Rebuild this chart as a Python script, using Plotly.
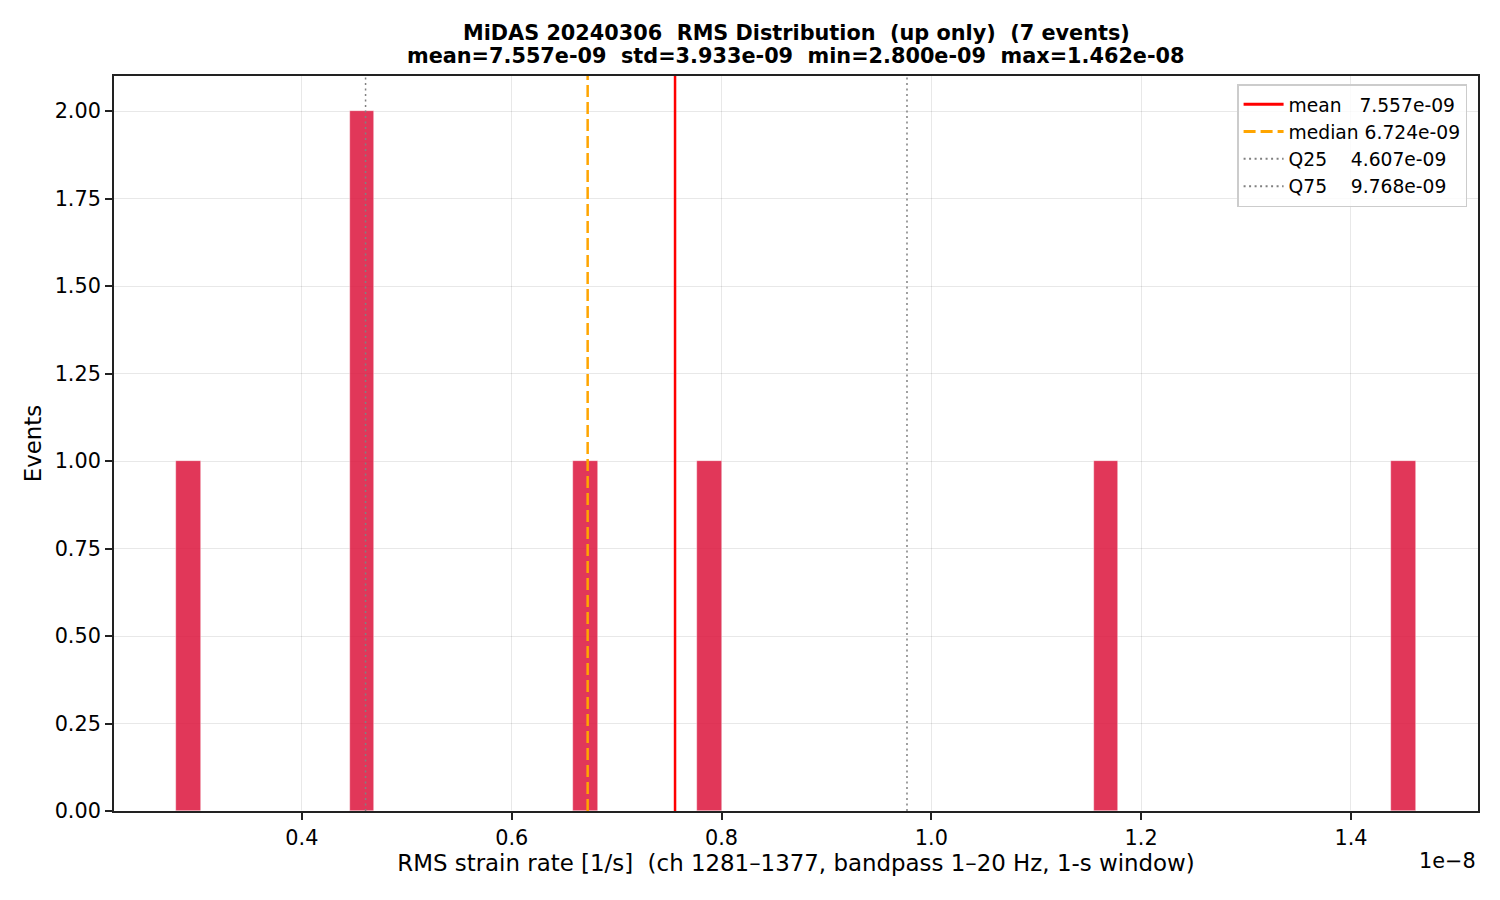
import numpy as np
import plotly.graph_objects as go

# RMS values of the 7 "up only" events [1/s]
rms_values = [2.800e-9, 4.580e-9, 4.634e-9, 6.724e-9, 7.800e-9, 11.736e-9, 14.620e-9]

# summary statistics shown as vertical lines
stat_names = ['mean', 'median', 'Q25', 'Q75']
stat_values = [7.557e-9, 6.724e-9, 4.607e-9, 9.768e-9]
stat_colors = ['red', 'orange', 'gray', 'gray']
stat_dash = ['solid', '12px,5px', '2px,3.5px', '2px,3.5px']
stat_width = [2.5, 2.5, 1.5, 1.5]
stat_label_pad = [3, 1, 4, 4]

title_lines = ['MiDAS 20240306  RMS Distribution  (up only)  (7 events)',
               'mean=7.557e-09  std=3.933e-09  min=2.800e-09  max=1.462e-08']

scale = 1e-8
n_bins = 50

x = np.array(rms_values) / scale
counts, edges = np.histogram(x, bins=n_bins)
centers = (edges[:-1] + edges[1:]) / 2
width = edges[1] - edges[0]

fig = go.Figure()

# histogram bars
fig.add_trace(go.Bar(
    x=centers, y=counts, width=width,
    marker=dict(color='rgba(220,20,60,0.85)', line=dict(color='rgba(255,255,255,0.7)', width=0.6)),
    showlegend=False, hoverinfo='x+y'))

# vertical stat lines + legend entries
for name, val, col, dash, lw, pad in zip(stat_names, stat_values, stat_colors, stat_dash,
                                         stat_width, stat_label_pad):
    fig.add_shape(type='line', x0=val / scale, x1=val / scale, xref='x',
                  y0=0, y1=1, yref='y domain',
                  line=dict(color=col, width=lw, dash=dash))
    label = name + '\u00a0' * pad + f'{val:.3e}'
    fig.add_trace(go.Scatter(x=[None], y=[None], mode='lines', name=label,
                             line=dict(color=col, width=lw + 0.5, dash=dash)))

lo = x.min() - 0.05 * (x.max() - x.min())
hi = x.max() + 0.05 * (x.max() - x.min())

# page body adds ~8px offset, so shrink the figure by that much
fig.update_layout(
    width=1492, height=892,
    font=dict(family='DejaVu Sans', size=20.8, color='black'),
    paper_bgcolor='white', plot_bgcolor='white',
    margin=dict(l=106, r=22, t=68, b=89),
    legend=dict(x=0.992, y=0.989, xanchor='right', yanchor='top',
                bgcolor='rgba(255,255,255,0.8)', bordercolor='#cccccc', borderwidth=1.5,
                font=dict(size=18.7), tracegroupgap=0, itemwidth=40),
    bargap=0,
)

# two-line bold title, placed like matplotlib's suptitle over the axes
for text, ypos in zip(title_lines, [1 + 43 / 735, 1 + 20 / 735]):
    fig.add_annotation(text=f'<b>{text}</b>', xref='paper', yref='paper', x=0.5, y=ypos,
                       xanchor='center', yanchor='middle', showarrow=False,
                       font=dict(size=20.8, color='black'))

fig.update_xaxes(
    range=[lo, hi], dtick=0.2, tickformat='.1f',
    showgrid=True, gridcolor='rgba(0,0,0,0.09)', gridwidth=1.2,
    showline=True, linecolor='#222222', linewidth=1.8, mirror=True,
    ticks='outside', ticklen=7, tickwidth=1.5, tickcolor='#222222', zeroline=False,
    title=dict(text='RMS strain rate [1/s]  (ch 1281–1377, bandpass 1–20 Hz, 1-s window)',
               standoff=6, font=dict(size=22.9)))

fig.update_yaxes(
    range=[0, 2.1], dtick=0.25, tickformat='.2f',
    showgrid=True, gridcolor='rgba(0,0,0,0.09)', gridwidth=1.2,
    showline=True, linecolor='#222222', linewidth=1.8, mirror=True,
    ticks='outside', ticklen=7, tickwidth=1.5, tickcolor='#222222', zeroline=False,
    title=dict(text='Events', standoff=7, font=dict(size=22.9)))

# matplotlib-style offset text
fig.add_annotation(text='1e\u22128', xref='paper', yref='paper', x=1.0, y=-0.068,
                   xanchor='right', yanchor='middle', showarrow=False, font=dict(size=20.8))

fig.write_html('out.html')
